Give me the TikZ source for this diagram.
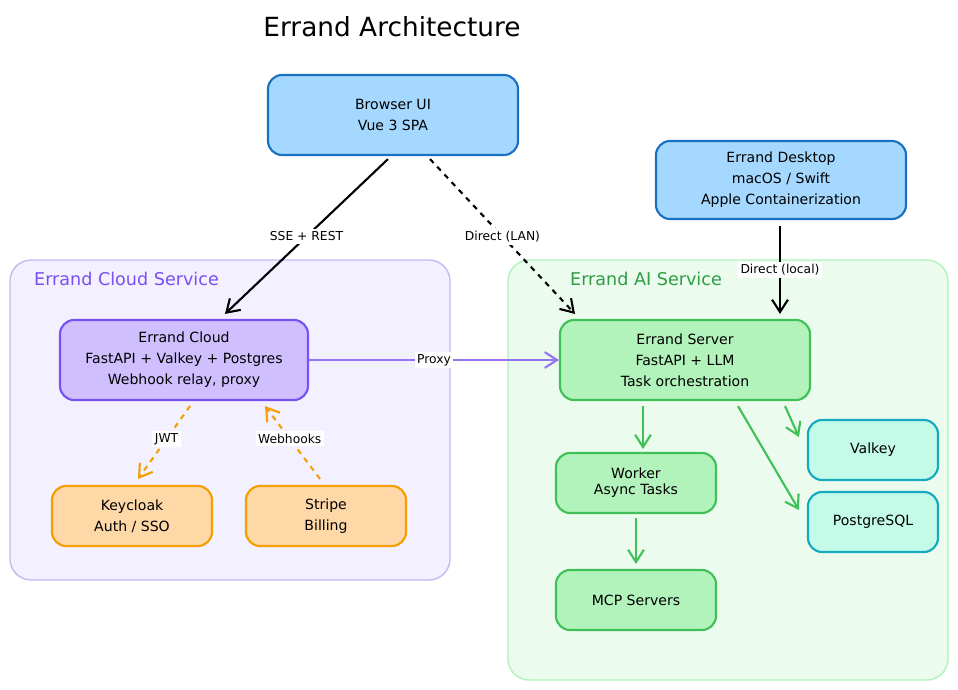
\documentclass[tikz,border=0pt]{standalone}
\usepackage{fontspec}
\setmainfont{DejaVu Sans}
\usetikzlibrary{calc,arrows.meta}
\definecolor{blueF}{HTML}{A5D8FF}\definecolor{blueD}{HTML}{1971C2}
\definecolor{purpF}{HTML}{D0BFFF}\definecolor{purpD}{HTML}{7950F2}
\definecolor{purpG}{HTML}{F3F0FF}\definecolor{purpB}{HTML}{C8B8F0}
\definecolor{greenF}{HTML}{B2F2BB}\definecolor{greenD}{HTML}{40C057}
\definecolor{greenG}{HTML}{EBFBEE}\definecolor{greenT}{HTML}{2F9E44}
\definecolor{orangeF}{HTML}{FFD8A8}\definecolor{orangeD}{HTML}{F59F00}
\definecolor{tealF}{HTML}{C3FAE8}\definecolor{tealD}{HTML}{15AABF}
\tikzset{
  box/.style={draw, rounded corners=8pt, line width=1.2pt, align=center,
    font=\fontsize{8}{12}\selectfont, inner sep=2pt},
  grp/.style={draw, rounded corners=12pt, line width=0.8pt},
  lbl/.style={fill=white, text=black, font=\fontsize{7}{8}\selectfont, inner sep=1.5pt},
  arr/.style={-{Straight Barb[length=7pt,width=9pt]}, line width=1.2pt},
}
\begin{document}
\begin{tikzpicture}[x=0.02cm, y=-0.02cm]
    \useasboundingbox (0,0) rectangle (958,690);

    % TITULO
    \node[font=\fontsize{15}{18}\selectfont] (title) at (392,27) {Errand Architecture};

    % GRUPOS
    \draw[grp, purpB, fill=purpG] (10,260) rectangle (450,580);
    \draw[grp, greenF, fill=greenG] (508,260) rectangle (948,680);
    \node[anchor=west, purpD, font=\fontsize{10}{12}\selectfont] (cloudlbl) at (28,279) {Errand Cloud Service};
    \node[anchor=west, greenT, font=\fontsize{10}{12}\selectfont] (ailbl) at (564,279) {Errand AI Service};

    % CLIENTES
    \node[box, draw=blueD, fill=blueF, minimum width=250*0.02cm, minimum height=80*0.02cm] (browser) at (393,115) {Browser UI\\Vue 3 SPA};
    \node[box, draw=blueD, fill=blueF, minimum width=250*0.02cm, minimum height=78*0.02cm] (desktop) at (781,180) {Errand Desktop\\macOS / Swift\\Apple Containerization};

    % NUBE
    \node[box, draw=purpD, fill=purpF, minimum width=248*0.02cm, minimum height=80*0.02cm] (cloud) at (184,360) {Errand Cloud\\FastAPI + Valkey + Postgres\\Webhook relay, proxy};
    \node[box, draw=orangeD, fill=orangeF, minimum width=160*0.02cm, minimum height=60*0.02cm] (keycloak) at (132,516) {Keycloak\\Auth / SSO};
    \node[box, draw=orangeD, fill=orangeF, minimum width=160*0.02cm, minimum height=60*0.02cm] (stripe) at (326,516) {Stripe\\Billing};

    % SERVIDOR
    \node[box, draw=greenD, fill=greenF, minimum width=250*0.02cm, minimum height=80*0.02cm] (server) at (685,360) {Errand Server\\FastAPI + LLM\\Task orchestration};
    \node[box, draw=greenD, fill=greenF, minimum width=160*0.02cm, minimum height=60*0.02cm] (worker) at (636,483) {Worker\\[-3pt]Async Tasks};
    \node[box, draw=greenD, fill=greenF, minimum width=160*0.02cm, minimum height=60*0.02cm] (mcp) at (636,600) {MCP Servers};
    \node[box, draw=tealD, fill=tealF, minimum width=130*0.02cm, minimum height=60*0.02cm] (valkey) at (873,450) {Valkey};
    \node[box, draw=tealD, fill=tealF, minimum width=130*0.02cm, minimum height=60*0.02cm] (postgres) at (873,522) {PostgreSQL};

    % PUNTOS DE ANCLAJE
    \coordinate (b1) at ($(browser.south)+(-5,3)$);
    \coordinate (b2) at ($(browser.south)+(37,3)$);
    \coordinate (c1) at ($(cloud.north)+(41,-5)$);
    \coordinate (s1) at ($(server.north)+(-110,-5)$);
    \coordinate (d1) at ($(desktop.south)+(-1,6)$);
    \coordinate (s2) at ($(server.north)+(95,-5)$);
    \coordinate (c2) at ($(cloud.south)+(6,5)$);
    \coordinate (k1) at ($(keycloak.north)+(6,-6)$);
    \coordinate (t1) at ($(stripe.north)+(-6,-6)$);
    \coordinate (c3) at ($(cloud.south)+(81,5)$);
    \coordinate (s3) at ($(server.south)+(-42,5)$);
    \coordinate (w1) at ($(worker.north)+(7,-3)$);
    \coordinate (s4) at ($(server.south)+(100,5)$);
    \coordinate (v1) at ($(valkey.west)+(-8,-13)$);
    \coordinate (s5) at ($(server.south)+(53,5)$);
    \coordinate (p1) at ($(postgres.west)+(-8,-12)$);
    \coordinate (w2) at ($(worker.south)+(0,4)$);
    \coordinate (m1) at ($(mcp.north)+(0,-5)$);

    % CONEXIONES
    \draw[arr] (b1) -- (c1) node[lbl, pos=0.5] {SSE + REST};
    \draw[arr, dashed] (b2) -- (s1) node[lbl, pos=0.5] {Direct (LAN)};
    \draw[arr] (d1) -- (s2) node[lbl, pos=0.5] {Direct (local)};
    \draw[arr, purpD!80] (cloud.east) -- (server.west) node[lbl, pos=0.5] {Proxy};
    \draw[arr, orangeD, dashed] (c2) -- (k1) node[lbl, pos=0.45] {JWT};
    \draw[arr, orangeD, dashed] (t1) -- (c3) node[lbl, pos=0.55] {Webhooks};
    \draw[arr, greenD] (s3) -- (w1);
    \draw[arr, greenD] (s4) -- (v1);
    \draw[arr, greenD] (s5) -- (p1);
    \draw[arr, greenD] (w2) -- (m1);

\end{tikzpicture}
\end{document}
